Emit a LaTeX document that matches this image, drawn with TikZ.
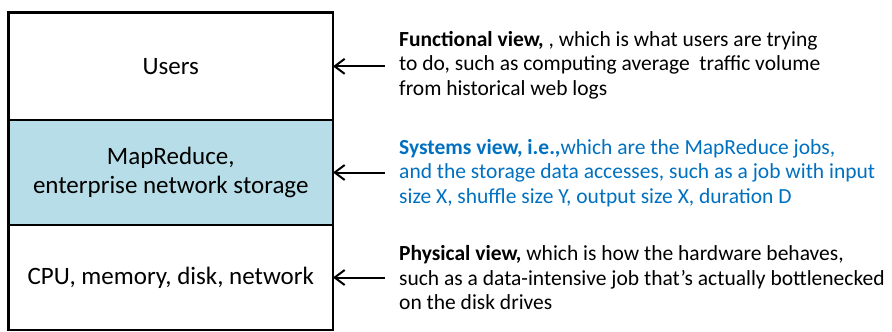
\documentclass[tikz,border=0pt]{standalone}
\usepackage{fontspec}
\setmainfont{Carlito}
\usetikzlibrary{arrows.meta}
\definecolor{layerblue}{RGB}{183,222,232}
\definecolor{textblue}{RGB}{0,112,192}
\tikzset{
  layer/.style={draw=black, line width=2.5pt, minimum width=324.5pt, inner sep=0pt, outer sep=0pt, align=center, font=\fontsize{25}{29}\selectfont},
  desc/.style={anchor=west, align=left, inner xsep=14pt, inner ysep=0pt, font=\fontsize{21.5}{24.5}\selectfont},
  pointer/.style={draw=black, line width=2pt, {Straight Barb[length=10pt,width=15pt,line width=2pt]}-}
}
\begin{document}
\begin{tikzpicture}[x=1pt,y=-1pt]
\useasboundingbox (0,0) rectangle (892,332);
\node[layer, minimum height=107.3pt] (users) at (170.75,66.35) {Users};
\node[layer, fill=layerblue, minimum height=105pt] (mr) at (170.75,172.5) {MapReduce,\\enterprise network storage};
\node[layer, minimum height=105pt] (hw) at (170.75,277.5) {CPU, memory, disk, network};
\node[desc] (func) at (385,65) {\textbf{Functional view,} , which is what users are trying\\to do, such as computing average \ traffic volume\\from historical web logs};
\node[desc, text=textblue] (sys) at (385,173) {\textbf{Systems view, i.e.,}which are the MapReduce jobs,\\and the storage data accesses, such as a job with input\\size X, shuffle size Y, output size X, duration D};
\node[desc] (phys) at (385,278) {\textbf{Physical view,} which is how the hardware behaves,\\such as a data-intensive job that’s actually bottlenecked\\on the disk drives};
\draw[pointer] (users.east) -- (users.east -| func.west);
\draw[pointer] (mr.east) -- (mr.east -| sys.west);
\draw[pointer] (hw.east) -- (hw.east -| phys.west);
\end{tikzpicture}
\end{document}
